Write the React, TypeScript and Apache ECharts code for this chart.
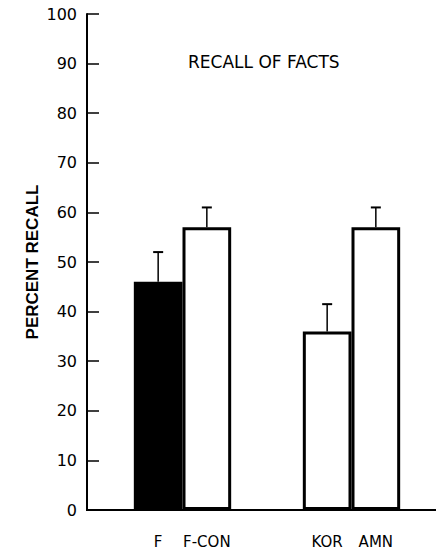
import React, { useEffect, useRef } from "react";
import * as echarts from "echarts";

// Data
const groups = ["FACTS-F", "FACTS-KOR"];
const barLabels = ["F", "F-CON", "KOR", "AMN"];
const recall = [46, 57, 36, 57];
const errorTop = [52, 61, 41.5, 61];
const fills = ["#000000", "#ffffff", "#ffffff", "#ffffff"];
const yTicks = [0, 10, 20, 30, 40, 50, 60, 70, 80, 90, 100];

const CAT_GAP = 0.424; // fraction of band left empty

export default function App() {
  const ref = useRef<HTMLDivElement>(null);
  useEffect(() => {
    if (!ref.current) return;
    const chart = echarts.init(ref.current, null, { renderer: "svg" });
    const font = "DejaVu Sans";
    const slotSeries = [0, 1].map((slot) => ({
      type: "bar",
      name: "slot" + slot,
      barGap: "0%",
      barCategoryGap: CAT_GAP * 100 + "%",
      data: groups.map((_, g) => {
        const i = g * 2 + slot;
        return {
          value: recall[i],
          itemStyle: { color: fills[i], borderColor: "#000", borderWidth: 3 },
        };
      }),
      label: {
        show: true,
        position: "bottom",
        distance: 24,
        formatter: (p: any) => barLabels[p.dataIndex * 2 + slot],
        color: "#000",
        fontFamily: font,
        fontSize: 15,
      },
      z: 2,
    }));
    const errData = recall.map((v, i) => [Math.floor(i / 2), i % 2, errorTop[i], v]);
    chart.setOption({
      animation: false,
      backgroundColor: "#fff",
      grid: { left: 98, top: 14, width: 340, height: 496, containLabel: false },
      title: {
        text: "RECALL OF FACTS",
        left: 183,
        top: 48,
        textStyle: { fontFamily: font, fontSize: 17, fontWeight: "normal", color: "#000" },
      },
      xAxis: {
        type: "category",
        data: groups,
        axisLine: { show: true, lineStyle: { color: "#000", width: 2 } },
        axisTick: { show: false },
        axisLabel: { show: false },
        splitLine: { show: false },
      },
      yAxis: {
        type: "value",
        min: 0,
        max: 100,
        interval: 10,
        offset: 11,
        name: "PERCENT RECALL",
        nameLocation: "middle",
        nameRotate: 90,
        nameGap: 46,
        nameMoveOverlap: false,
        nameTextStyle: { fontFamily: "Liberation Sans", fontWeight: "bold", fontSize: 17, color: "#000" },
        axisLine: { show: true, lineStyle: { color: "#000", width: 2 } },
        axisTick: { show: true, inside: true, length: 12, lineStyle: { color: "#000", width: 1.5 } },
        axisLabel: {
          margin: 10,
          color: "#000",
          fontFamily: font,
          fontSize: 16,
          formatter: (v: number) => (yTicks.includes(v) ? String(v) : ""),
        },
        splitLine: { show: false },
      },
      graphic: [
        {
          type: "line",
          shape: { x1: 86, y1: 510, x2: 99, y2: 510 },
          style: { stroke: "#000", lineWidth: 2 },
        },
      ],
      series: [
        ...slotSeries,
        {
          type: "custom",
          name: "error",
          z: 3,
          encode: { x: 0, y: 2 },
          data: errData,
          renderItem: (params: any, api: any) => {
            const g = api.value(0);
            const slot = api.value(1);
            const top = api.coord([g, api.value(2)]);
            const base = api.coord([g, api.value(3)]);
            const bandW = api.size([1, 0])[0];
            const barW = (bandW * (1 - CAT_GAP)) / 2;
            const x = top[0] + (slot === 0 ? -barW / 2 : barW / 2);
            return {
              type: "group",
              children: [
                {
                  type: "line",
                  shape: { x1: x, y1: base[1], x2: x, y2: top[1] },
                  style: { stroke: "#000", lineWidth: 1.5 },
                },
                {
                  type: "line",
                  shape: { x1: x - 5, y1: top[1], x2: x + 5, y2: top[1] },
                  style: { stroke: "#000", lineWidth: 2 },
                },
              ],
            };
          },
        },
      ],
    });
    return () => chart.dispose();
  }, []);
  return (
    <div
      ref={ref}
      style={{ position: "fixed", left: 0, top: 0, width: 436, height: 550 }}
    />
  );
}
